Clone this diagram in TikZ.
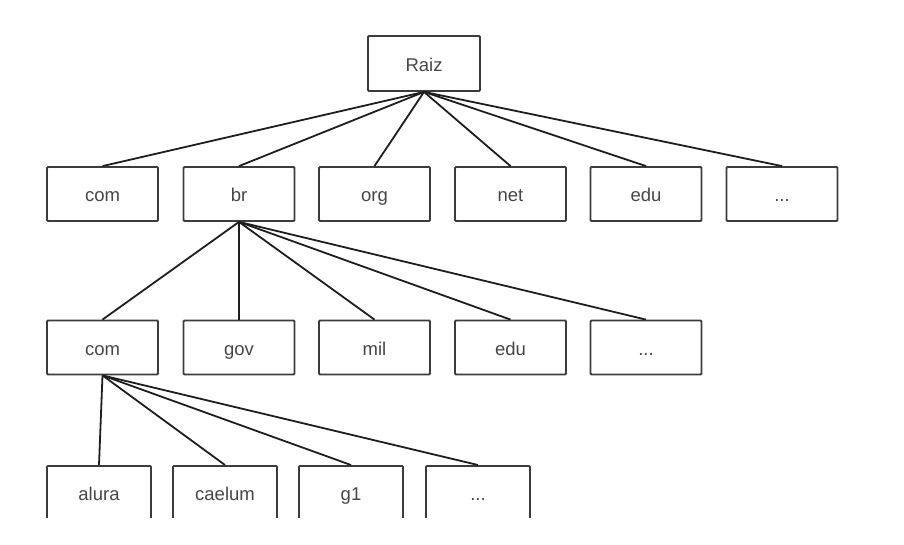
\documentclass[tikz,border=0pt]{standalone}
\usepackage{fontspec}
\setmainfont{Liberation Sans}
\definecolor{cline}{RGB}{30,30,30}
\definecolor{cbox}{RGB}{60,60,60}
\definecolor{ctext}{RGB}{70,70,70}
\begin{document}
\begin{tikzpicture}[x=1pt, y=-1pt, font=\fontsize{18.5}{20}\selectfont,
  dom/.style={draw=cbox, fill=white, text=ctext, rounded corners=1pt,
              minimum width=111pt, minimum height=54pt, inner sep=0pt,
              text height=15pt, text depth=0pt, line width=1.8pt},
  leaf/.style={dom, minimum width=104pt},
  ln/.style={cline, line width=1.8pt},
]
\useasboundingbox (0,0) rectangle (904,544);
\begin{scope}
\clip (0,0) rectangle (904,517);
% --- root ---------------------------------------------------------------
\node[dom, minimum width=112pt, minimum height=55pt] (raiz) at (424,63.5) {Raiz};
% --- top-level domains --------------------------------------------------
\node[dom] (com) at (102.5,194) {com};
\node[dom] (br)  at (239,194)   {br};
\node[dom] (org) at (374.5,194) {org};
\node[dom] (net) at (510.5,194) {net};
\node[dom] (edu) at (646,194)   {edu};
\node[dom] (etc) at (782,194)   {...};
% --- second level under br ----------------------------------------------
\node[dom] (brcom) at (102.5,347.5) {com};
\node[dom] (brgov) at (239,347.5)   {gov};
\node[dom] (brmil) at (374.5,347.5) {mil};
\node[dom] (bredu) at (510.5,347.5) {edu};
\node[dom] (bretc) at (646,347.5)   {...};
% --- third level under com.br (bottom edge runs off the page) ------------
\node[leaf, anchor=north] (alura)  at (99,465)  {alura};
\node[leaf, anchor=north] (caelum) at (225,465) {caelum};
\node[leaf, anchor=north] (gone)   at (351,465) {g1};
\node[leaf, anchor=north] (cometc) at (478,465) {...};

\foreach \n in {com,br,org,net,edu,etc}
  \draw[ln] (raiz.south) -- (\n.north);
\foreach \n in {brcom,brgov,brmil,bredu,bretc}
  \draw[ln] (br.south) -- (\n.north);
\foreach \n in {alura,caelum,gone,cometc}
  \draw[ln] (brcom.south) -- (\n.north);
\end{scope}
\end{tikzpicture}
\end{document}
